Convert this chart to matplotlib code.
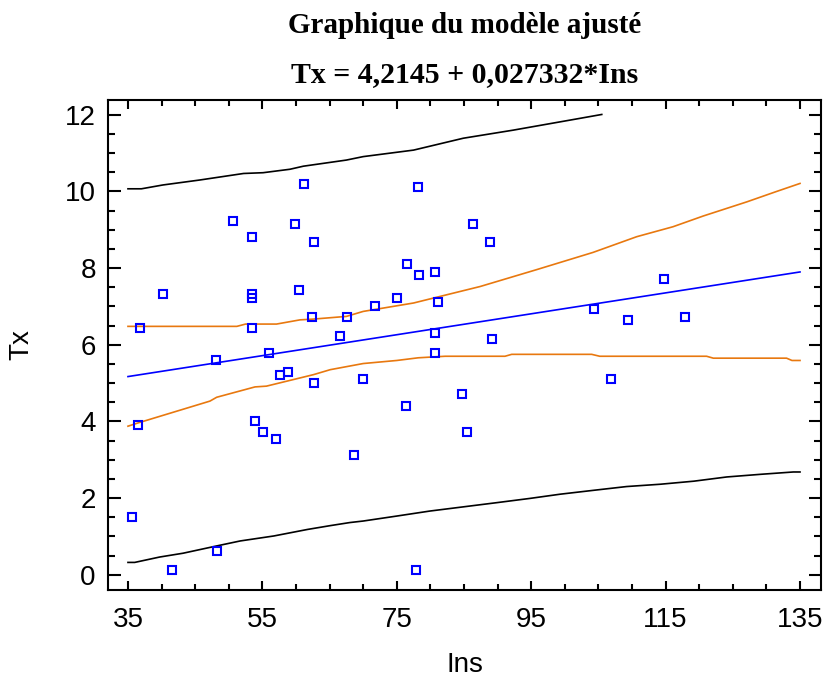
import matplotlib
matplotlib.use("Agg")
import matplotlib.pyplot as plt
from matplotlib.ticker import MultipleLocator

# Observed data
ins = [61.2, 50.6, 53.4, 59.9, 62.7, 40.2, 53.4, 53.4, 60.4, 36.8,
       53.4, 62.4, 67.6, 66.6, 78.2, 86.3, 88.9, 76.5, 78.3, 80.7,
       75.0, 71.7, 81.2, 80.7, 89.2, 114.8, 104.3, 109.4, 117.9, 48.1,
       56.0, 57.6, 58.8, 62.7, 36.5, 53.9, 55.1, 57.1, 35.6, 48.3,
       41.6, 68.6, 80.7, 70.0, 84.7, 76.3, 85.5, 77.9, 106.9]
tx = [10.2, 9.24, 8.80, 9.15, 8.69, 7.32, 7.32, 7.22, 7.42, 6.43,
      6.43, 6.72, 6.72, 6.24, 10.13, 9.15, 8.69, 8.11, 7.82, 7.91,
      7.22, 7.02, 7.12, 6.32, 6.14, 7.71, 6.93, 6.64, 6.72, 5.59,
      5.79, 5.20, 5.30, 5.00, 3.90, 4.01, 3.72, 3.53, 1.51, 0.62,
      0.12, 3.13, 5.79, 5.10, 4.71, 4.41, 3.72, 0.12, 5.10]

# Fitted line
fit_x = [35.0, 135.0]
fit_y = [5.17, 7.90]

# Confidence limits (orange)
conf_up_x = [35.0, 51.2, 52.5, 57.1, 60.6, 62.6, 67.5, 70.0, 77.5, 81.4,
             87.4, 95.8, 104.2, 110.7, 116.1, 120.6, 127.1, 131.5, 135.0]
conf_up_y = [6.48, 6.48, 6.54, 6.54, 6.65, 6.67, 6.74, 6.87, 7.09, 7.26,
             7.52, 7.96, 8.41, 8.82, 9.08, 9.36, 9.73, 10.0, 10.21]
conf_lo_x = [35.0, 36.5, 47.2, 48.2, 53.9, 55.6, 62.6, 65.1, 70.0, 75.0,
             78.2, 82.2, 91.1, 92.1, 104.0, 105.2, 121.1, 122.1, 133.0,
             133.8, 135.0]
conf_lo_y = [3.875, 3.96, 4.53, 4.63, 4.90, 4.92, 5.22, 5.35, 5.51, 5.59,
             5.66, 5.70, 5.70, 5.75, 5.75, 5.70, 5.70, 5.65, 5.65,
             5.59, 5.59]

# Prediction limits (black)
pred_up_x = [35.0, 37.0, 40.2, 45.7, 52.2, 55.1, 59.1, 61.1, 67.5, 70.0,
             77.5, 84.9, 92.3, 102.3, 105.5]
pred_up_y = [10.07, 10.07, 10.17, 10.30, 10.47, 10.49, 10.58, 10.66, 10.82,
             10.91, 11.08, 11.39, 11.60, 11.91, 12.01]
pred_lo_x = [35.0, 36.0, 39.7, 43.2, 48.2, 51.7, 56.7, 61.7, 65.1, 68.0,
             70.0, 75.0, 79.9, 84.9, 89.9, 94.8, 99.3, 104.2, 109.2, 114.2,
             119.2, 124.1, 129.2, 134.0, 135.0]
pred_lo_y = [0.32, 0.32, 0.46, 0.56, 0.75, 0.88, 1.01, 1.18, 1.28, 1.36,
             1.40, 1.53, 1.66, 1.77, 1.88, 1.99, 2.10, 2.20, 2.30, 2.36,
             2.44, 2.55, 2.62, 2.68, 2.68]

x_ticks = [35, 55, 75, 95, 115, 135]
y_ticks = [0, 2, 4, 6, 8, 10, 12]

fig = plt.figure(figsize=(8.26, 6.77), dpi=100)
ax = fig.add_axes([0.1311, 0.1285, 0.8625, 0.7245])

orange = "#E8780F"
blue = "#0000FF"
lw = 1.2
ax.plot(pred_up_x, pred_up_y, color="black", lw=lw)
ax.plot(pred_lo_x, pred_lo_y, color="black", lw=lw)
ax.plot(conf_up_x, conf_up_y, color=orange, lw=lw)
ax.plot(conf_lo_x, conf_lo_y, color=orange, lw=lw)
ax.plot(fit_x, fit_y, color=blue, lw=lw)
ax.plot(ins, tx, linestyle="none", marker="s", markersize=6.2,
        markerfacecolor="none", markeredgecolor=blue, markeredgewidth=1.5)

ax.set_xlim(32.07, 138.08)
ax.set_ylim(-0.4, 12.4)
ax.set_xticks(x_ticks)
ax.set_yticks(y_ticks)
ax.xaxis.set_minor_locator(MultipleLocator(5))
ax.yaxis.set_minor_locator(MultipleLocator(0.5))

tick_font = "Liberation Sans"
ax.tick_params(axis="both", which="both", direction="in",
               top=True, right=True, width=1.5, labelsize=20)
ax.tick_params(axis="x", which="major", length=6.5, pad=12)
ax.tick_params(axis="x", which="minor", length=4)
ax.tick_params(axis="y", which="major", length=9, pad=9)
ax.tick_params(axis="y", which="minor", length=5)
for lab in ax.get_xticklabels() + ax.get_yticklabels():
    lab.set_fontfamily(tick_font)
for s in ax.spines.values():
    s.set_linewidth(1.5)

ax.set_xlabel("Ins", fontsize=20, family=tick_font, labelpad=14)
ax.set_ylabel("Tx", fontsize=20, family=tick_font, labelpad=22)

fig.text(0.562, 0.951, "Graphique du modèle ajusté", ha="center",
         va="baseline", fontsize=21, fontweight="bold", family="Liberation Serif")
fig.text(0.562, 0.879, "Tx = 4,2145 + 0,027332*Ins", ha="center",
         va="baseline", fontsize=21.5, fontweight="bold", family="Liberation Serif")

fig.savefig("out.png", dpi=100)
